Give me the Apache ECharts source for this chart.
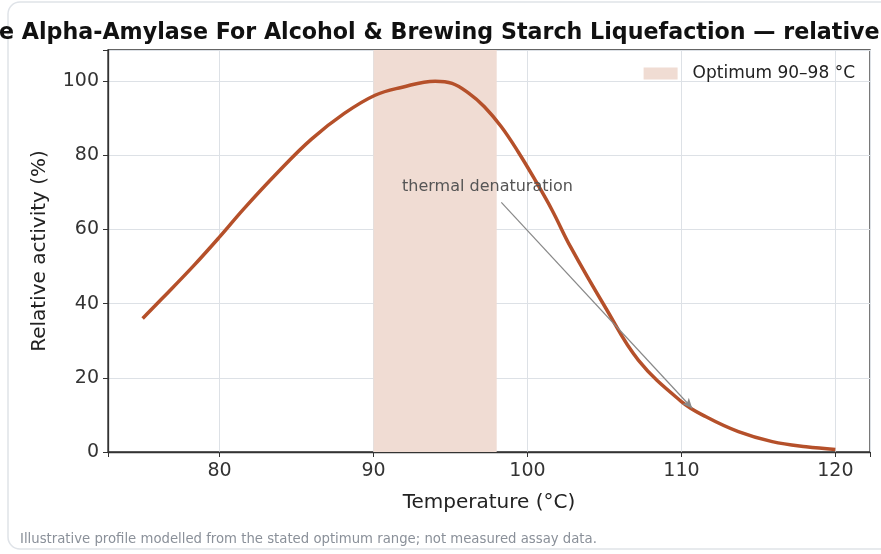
<!DOCTYPE html>
<html>
<head>
<meta charset="utf-8">
<script src="https://cdn.jsdelivr.net/npm/echarts@6/dist/echarts.min.js"></script>
<style>
  html, body { margin: 0; padding: 0; background: #fff; }
  #main { width: 881px; height: 554px; }
</style>
</head>
<body>
<div id="main"></div>
<script>
// curve: temperature (°C) -> relative activity (%)
var temps = [75, 76.2, 78.35, 80, 81.6, 83.8, 85.95, 88.1, 90.1, 91.8, 94, 95.1, 96.2, 97.2, 98.3, 99.4, 100.5, 101.6, 102.8, 105.1, 107.2, 110, 111.6, 113.7, 115.9, 118.1, 120];
var activity = [36.0, 41.1, 50.4, 58.0, 65.7, 75.5, 84.3, 91.3, 96.2, 98.3, 100, 99.4, 96.7, 93.1, 87.7, 80.9, 73.3, 65.2, 55.3, 38.7, 24.8, 13.6, 9.5, 5.5, 2.8, 1.4, 0.7];
var optimumRange = [90, 98];
var arrowFrom = [98.3, 67.3];
var arrowTo = [110.7, 11.8];
var notePos = [97.4, 71.5];

var titleText = 'Thermostable Alpha-Amylase For Alcohol & Brewing Starch Liquefaction — relative activity vs temperature';
var titleFont = 'bold 22.2px "DejaVu Sans"';

// the title is wider than the card, so it is clipped on both sides
var ctx = document.createElement('canvas').getContext('2d');
ctx.font = titleFont;
var titleX = -1 - ctx.measureText('Thermostabl').width;

var myChart = echarts.init(document.getElementById('main'));

var curve = temps.map(function (t, i) { return [t, activity[i]]; });

var option = {
    backgroundColor: '#fff',
    animation: false,
    textStyle: { fontFamily: 'DejaVu Sans' },
    graphic: [
        {
            type: 'rect',
            shape: { x: 8, y: 2, width: 900, height: 547, r: 12 },
            style: { fill: 'none', stroke: '#dfe3e8', lineWidth: 1.5 },
            z: -1
        },
        {
            type: 'text',
            x: titleX,
            y: 22,
            style: { text: titleText, font: titleFont, fill: '#111' }
        },
        {
            type: 'text',
            x: 20,
            y: 533,
            style: {
                text: 'Illustrative profile modelled from the stated optimum range; not measured assay data.',
                font: '13.25px "DejaVu Sans"',
                fill: '#8a9099'
            }
        }
    ],
    legend: {
        right: 26,
        top: 65,
        padding: 0,
        icon: 'rect',
        itemWidth: 34,
        itemHeight: 12,
        textStyle: { fontSize: 17, color: '#222', fontFamily: 'DejaVu Sans', padding: [0, 0, 0, 10] },
        data: ['Optimum 90–98 °C']
    },
    grid: {
        left: 108, right: 11, top: 50, bottom: 102,
        show: true, borderColor: '#333', borderWidth: 1.3
    },
    xAxis: {
        type: 'value',
        min: 72.75,
        max: 122.25,
        splitNumber: 5,
        name: 'Temperature (°C)',
        nameLocation: 'middle',
        nameGap: 41,
        nameTextStyle: { fontSize: 20, color: '#222' },
        axisLine: { lineStyle: { color: '#333', width: 1.3 } },
        axisTick: { length: 5, lineStyle: { color: '#333' } },
        axisLabel: {
            fontSize: 19, color: '#333', margin: 10,
            formatter: function (v) { return v % 10 === 0 ? v : ''; }
        },
        splitLine: { show: true, lineStyle: { color: '#dde1e6', width: 1 } }
    },
    yAxis: {
        type: 'value',
        min: 0,
        max: 108.4,
        interval: 20,
        name: 'Relative activity (%)',
        nameLocation: 'middle',
        nameGap: 58,
        nameTextStyle: { fontSize: 20, color: '#222' },
        axisLine: { show: true, lineStyle: { color: '#333', width: 1.3 } },
        axisTick: { show: true, length: 5, lineStyle: { color: '#333' } },
        axisLabel: {
            fontSize: 19, color: '#333', margin: 9,
            formatter: function (v) { return v % 20 === 0 ? v : ''; }
        },
        splitLine: { show: true, lineStyle: { color: '#dde1e6', width: 1 } }
    },
    series: [
        {
            name: 'Optimum 90–98 °C',
            type: 'line',
            data: [],
            itemStyle: { color: '#f0dcd3' },
            lineStyle: { color: '#f0dcd3' },
            markArea: {
                silent: true,
                itemStyle: { color: '#f0dcd3', opacity: 1 },
                data: [[{ xAxis: optimumRange[0] }, { xAxis: optimumRange[1] }]]
            }
        },
        {
            name: 'activity',
            type: 'line',
            data: curve,
            smooth: 0.4,
            showSymbol: false,
            lineStyle: { color: '#b5502a', width: 3.5 },
            itemStyle: { color: '#b5502a' },
            z: 3
        },
        {
            name: 'note',
            type: 'line',
            data: [],
            z: 4,
            markLine: {
                silent: true,
                symbol: ['none', 'arrow'],
                symbolSize: [7, 10],
                lineStyle: { color: '#888', width: 1.2, type: 'solid' },
                label: { show: false },
                data: [[{ coord: arrowFrom }, { coord: arrowTo }]]
            },
            markPoint: {
                silent: true,
                symbol: 'circle',
                symbolSize: 1,
                itemStyle: { color: 'rgba(0,0,0,0)' },
                label: {
                    show: true,
                    position: 'inside',
                    formatter: 'thermal denaturation',
                    color: '#555',
                    fontSize: 16,
                    fontFamily: 'DejaVu Sans'
                },
                data: [{ coord: notePos }]
            }
        }
    ]
};

myChart.setOption(option);
</script>
</body>
</html>
